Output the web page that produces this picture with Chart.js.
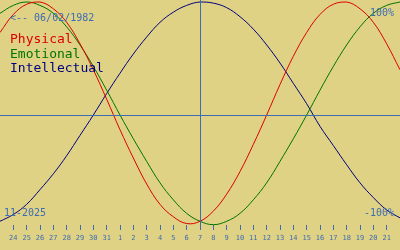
<!DOCTYPE html>
<html>
<head>
<meta charset="utf-8">
<script src="https://cdn.jsdelivr.net/npm/chart.js@4/dist/chart.umd.min.js"></script>
<style>
  html, body { margin: 0; padding: 0; background: #e0d284; }
  #wrap { width: 400px; height: 250px; }
</style>
</head>
<body>
<div id="wrap"><canvas id="chart" width="400" height="250"></canvas></div>
<script>
// days shown: 23 Oct 2025 .. 22 Nov 2025
const days = ['23', '24', '25', '26', '27', '28', '29', '30', '31',
    '1', '2', '3', '4', '5', '6', '7', '8', '9', '10', '11', '12',
    '13', '14', '15', '16', '17', '18', '19', '20', '21', '22'];
const todayIndex = 15; // 7 Nov

// values in percent
const physical = [73, 89, 98, 100, 94, 82, 63, 40, 14, -13, -38, -61, -79, -90, -96,
    -94, -85, -70, -50, -26, 0, 27, 52, 73, 89, 98, 100, 94, 82, 63, 40];
const emotional = [90, 97, 100, 97, 90, 78, 62, 43, 22, 0, -21, -41, -60, -75, -87,
    -94, -97, -94, -87, -75, -60, -41, -21, 0, 22, 43, 62, 78, 90, 97, 100];
const intellectual = [-94, -88, -79, -66, -52, -36, -18, 0, 19, 37, 54, 69, 82, 91, 97,
    100, 99, 95, 87, 76, 62, 46, 28, 10, -10, -27, -44, -60, -73, -84, -91];

const legendNames = ['Physical', 'Emotional', 'Intellectual'];
const birthText = '<-- 06/02/1982';
const monthText = '11-2025';

const BLUE = '#3b6cb4';
const BG = '#e0d284';
const MONO = '"DejaVu Sans Mono", "Liberation Mono", monospace';
const colors = ['#dc0000', '#007400', '#000080'];

const overlay = {
    id: 'overlay',
    beforeDraw(chart) {
        const ctx = chart.ctx;
        ctx.save();
        ctx.fillStyle = BG;
        ctx.fillRect(0, 0, chart.width, chart.height);
        ctx.restore();
    },
    afterDatasetsDraw(chart) {
        const ctx = chart.ctx;
        const area = chart.chartArea;
        const x = Math.round(chart.scales.x.getPixelForValue(todayIndex)) + 0.5;
        const y = Math.round(chart.scales.y.getPixelForValue(0)) + 0.5;
        ctx.save();
        ctx.strokeStyle = BLUE;
        ctx.lineWidth = 1;
        ctx.beginPath();
        ctx.moveTo(area.left, y);
        ctx.lineTo(area.right, y);
        ctx.moveTo(x, 0);
        ctx.lineTo(x, area.bottom);
        ctx.stroke();
        ctx.restore();
    },
    afterDraw(chart) {
        const ctx = chart.ctx;
        ctx.save();
        ctx.textBaseline = 'alphabetic';
        ctx.fillStyle = BLUE;
        ctx.font = '10px ' + MONO;
        ctx.fillText(birthText, 10, 21);
        ctx.fillText('100%', 370, 16);
        ctx.fillText('-100%', 364, 216);
        ctx.fillText(monthText, 4, 216);
        ctx.font = '13px ' + MONO;
        legendNames.forEach((name, i) => {
            ctx.fillStyle = colors[i];
            ctx.fillText(name, 10, 43 + i * 14.5);
        });
        ctx.restore();
    }
};

function lineSet(label, data, color) {
    return {
        label: label,
        data: data,
        borderColor: color,
        borderWidth: 1,
        pointRadius: 0,
        pointHoverRadius: 0,
        tension: 0.4,
        fill: false,
        clip: false
    };
}

new Chart(document.getElementById('chart').getContext('2d'), {
    type: 'line',
    data: {
        labels: days,
        datasets: [
            lineSet(legendNames[0], physical, colors[0]),
            lineSet(legendNames[1], emotional, colors[1]),
            lineSet(legendNames[2], intellectual, colors[2])
        ]
    },
    options: {
        responsive: false,
        animation: false,
        layout: { autoPadding: false, padding: { top: 2, left: 0, right: 0, bottom: 0 } },
        plugins: {
            legend: { display: false },
            tooltip: { enabled: false }
        },
        scales: {
            x: {
                type: 'category',
                offset: false,
                border: { display: false },
                grid: {
                    drawOnChartArea: false,
                    tickLength: 5,
                    lineWidth: 1,
                    color: c => (c.index === 0 || c.index === days.length - 1) ? 'rgba(0,0,0,0)' : BLUE
                },
                ticks: {
                    autoSkip: false,
                    maxRotation: 0,
                    minRotation: 0,
                    padding: 4,
                    color: BLUE,
                    font: { family: MONO, size: 7 },
                    callback: (v, i) => (i === 0 || i === days.length - 1) ? '' : days[i]
                },
                afterFit: s => { s.height = 25; s.paddingLeft = 0; s.paddingRight = 0; }
            },
            y: {
                display: false,
                min: -97.3,
                max: 100
            }
        }
    },
    plugins: [overlay]
});
</script>
</body>
</html>
